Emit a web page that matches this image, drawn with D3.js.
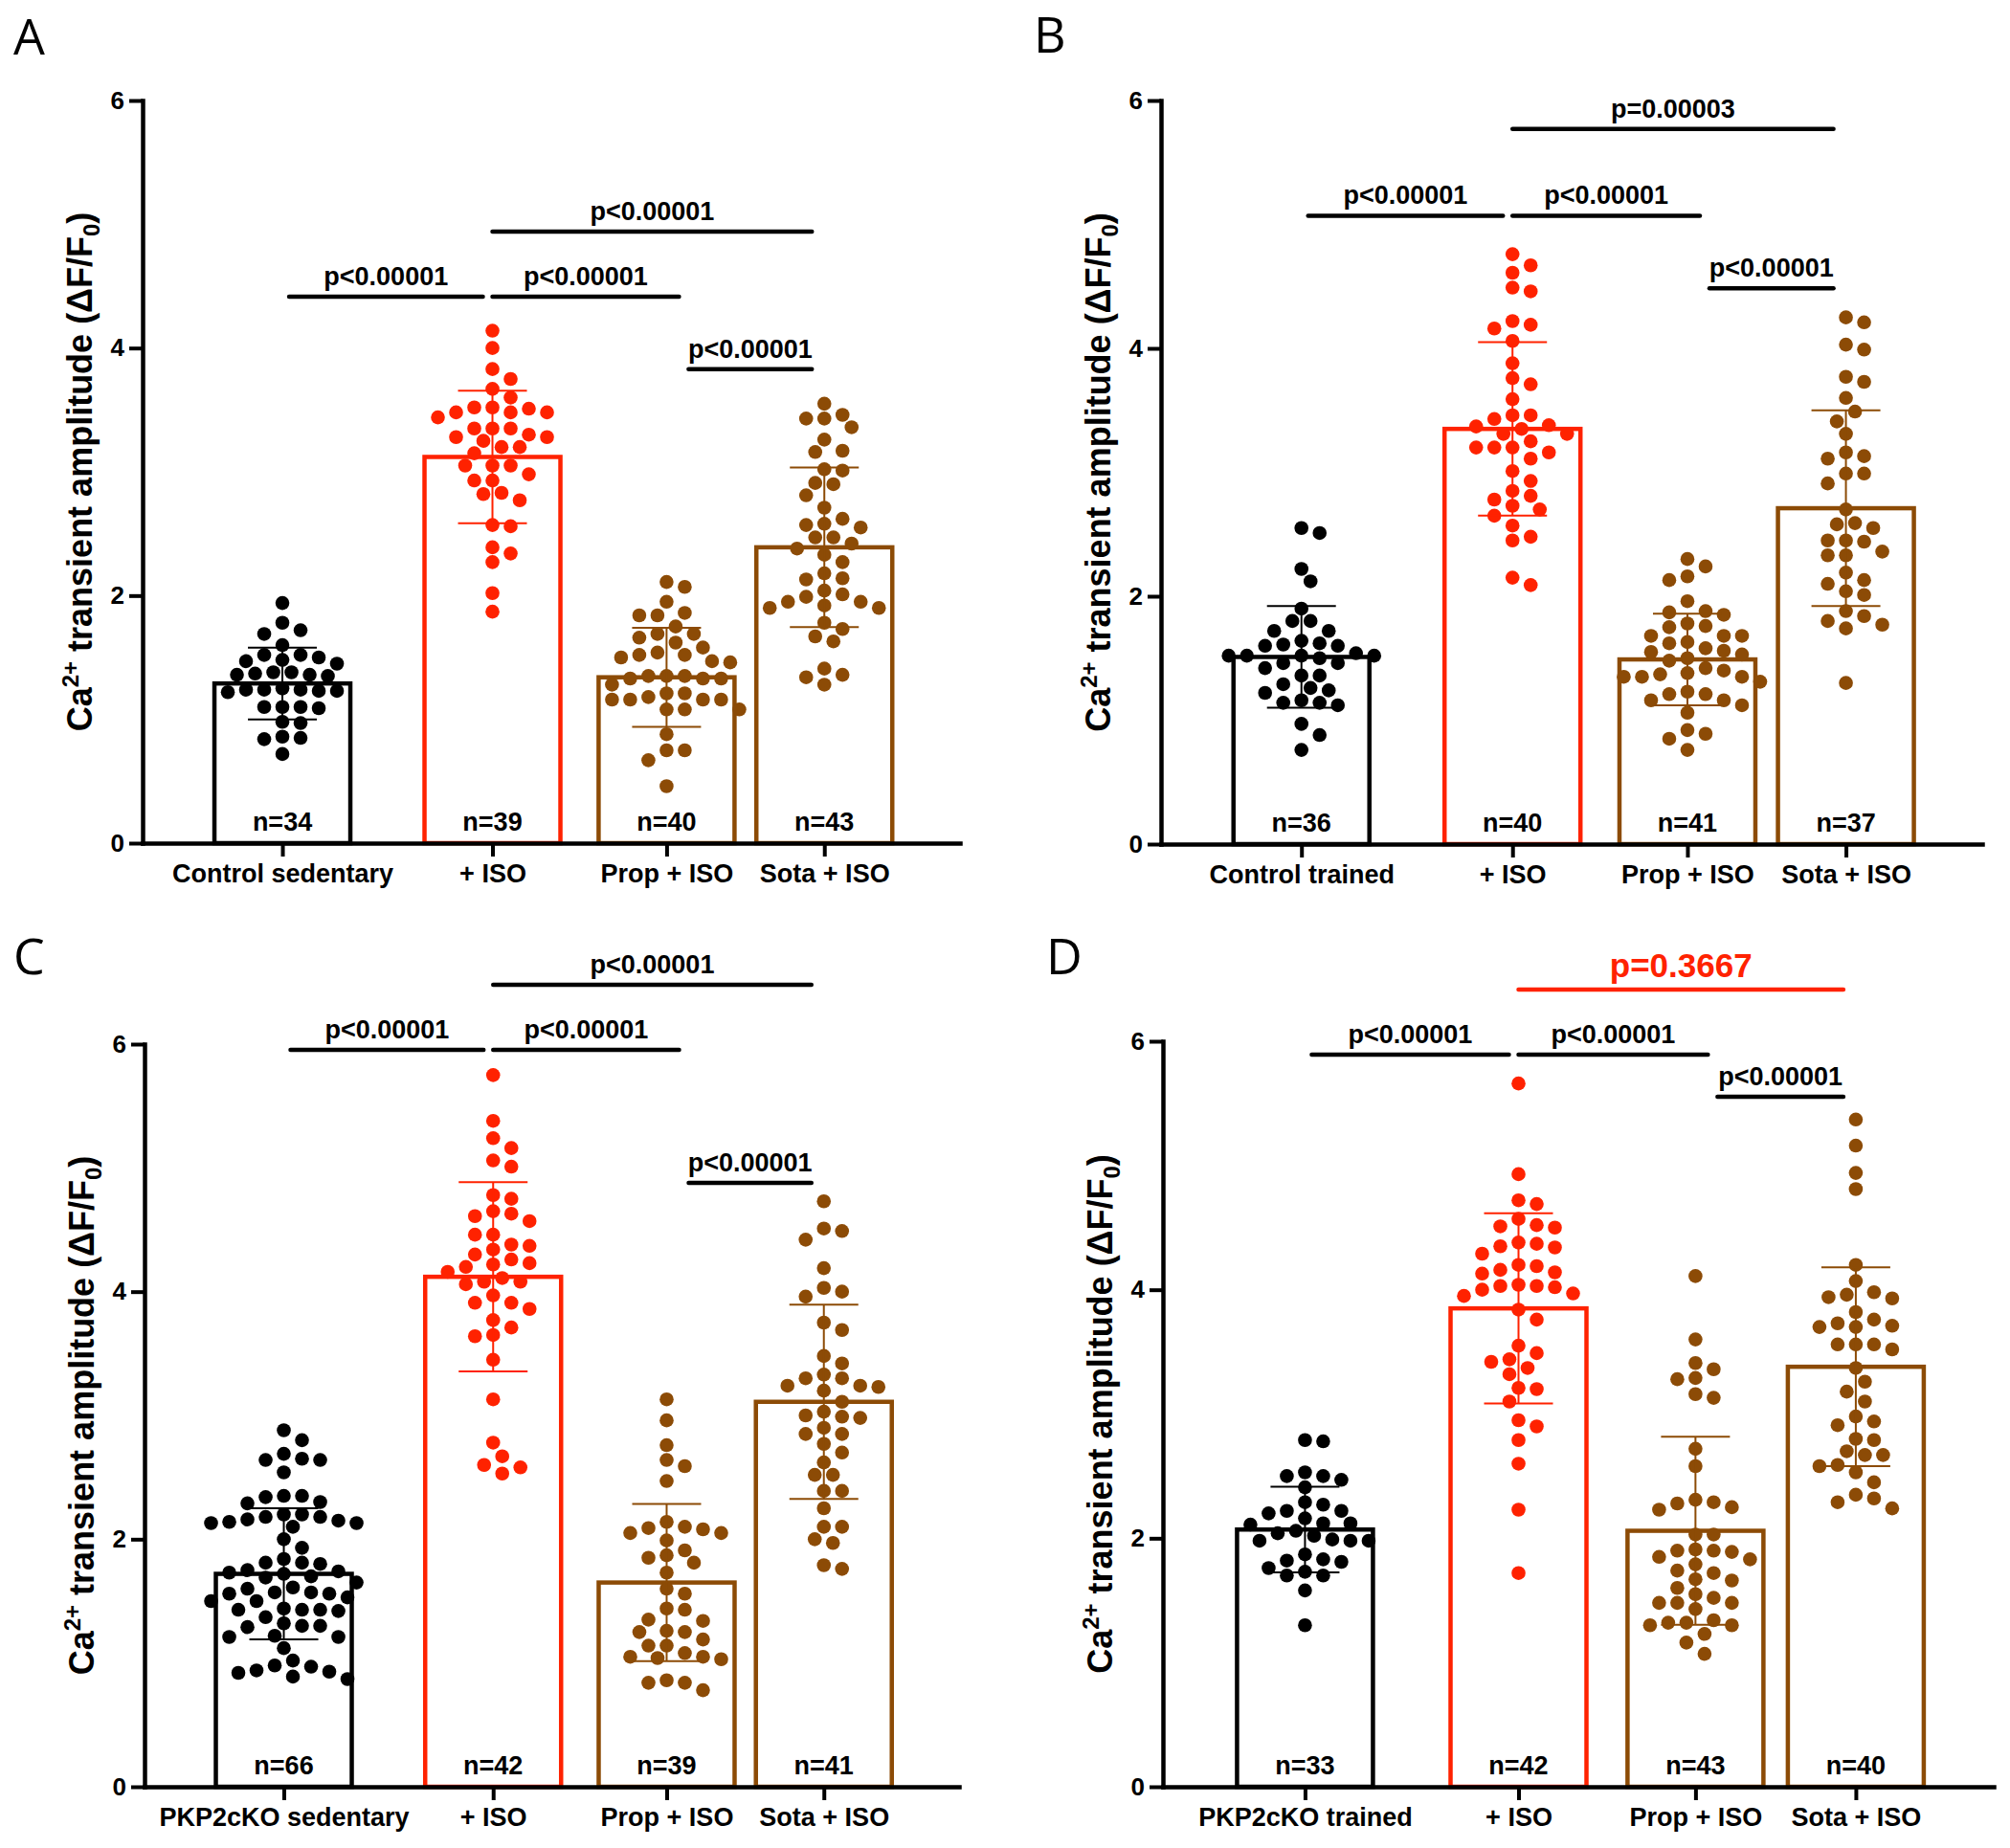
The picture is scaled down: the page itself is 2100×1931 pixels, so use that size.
<!DOCTYPE html>
<html>
<head>
<meta charset="utf-8">
<script src="https://cdn.jsdelivr.net/npm/d3@7"></script>
<style>
  body { margin: 0; background: #fff; }
  text { font-family: "Liberation Sans", Arial, sans-serif; font-weight: bold; }
</style>
</head>
<body>
<script>
const FRAME_WIDTH = 2100;
const FRAME_HEIGHT = 1931;

// colours per group: control, +ISO, Prop + ISO, Sota + ISO
const GROUP_COLOR = ["#000000", "#ff2200", "#8c4b06", "#8c4b06"];
// where the four groups sit along each x axis (fraction of axis length)
const GROUP_POS = [0.171, 0.428, 0.641, 0.834];
// small px nudges where the comparison brackets attach to each group
const BRACKET_NUDGE = [2, -5, 18, -8];
const Y_TICKS = [0, 2, 4, 6];

// ---------- panel A ----------
const A_LABELS = ["Control sedentary", "+ ISO", "Prop + ISO", "Sota + ISO"];
const A_N = [34, 39, 40, 43];
const A_MEAN = [1.29, 3.12, 1.34, 2.39];
const A_SD = [0.29, 0.535, 0.40, 0.645];
const A_CTRL = [1.94, 1.78, 1.72, 1.69, 1.60, 1.52, 1.50, 1.48, 1.47, 1.45, 1.52, 1.38, 1.36, 1.38, 1.35, 1.37, 1.36,
  1.24, 1.23, 1.24, 1.22, 1.25, 1.23, 1.24, 1.10, 1.10, 1.09, 1.10, 0.97, 0.98, 0.85, 0.86, 0.84, 0.72];
const A_ISO = [4.14, 4.00, 3.83, 3.75, 3.67, 3.60, 3.51, 3.48, 3.52, 3.52, 3.48, 3.44, 3.48, 3.35, 3.35, 3.28, 3.28,
  3.30, 3.35, 3.25, 3.20, 3.20, 3.05, 3.05, 3.05, 2.93, 2.93, 2.82, 2.83, 2.77, 2.57, 2.56, 2.39, 2.34, 2.27, 2.02,
  1.87, 3.15, 2.98];
const A_PROP = [2.11, 2.07, 1.95, 1.86, 1.84, 1.84, 1.75, 1.66, 1.69, 1.69, 1.58, 1.62, 1.50, 1.47, 1.54, 1.52, 1.46,
  1.52, 1.33, 1.35, 1.28, 1.35, 1.35, 1.33, 1.33, 1.18, 1.16, 1.16, 1.21, 1.16, 1.21, 1.16, 1.08, 1.08, 1.08, 0.88,
  0.75, 0.75, 0.67, 0.46];
const A_SOTA = [3.55, 3.43, 3.43, 3.46, 3.36, 3.26, 3.16, 3.17, 3.01, 3.02, 2.90, 2.91, 2.81, 2.71, 2.58, 2.57, 2.47,
  2.47, 2.55, 2.42, 2.38, 2.33, 2.27, 2.18, 2.14, 2.13, 1.99, 2.04, 2.01, 1.90, 1.92, 1.95, 1.90, 1.95, 1.78, 1.67,
  1.73, 1.63, 1.41, 1.36, 1.34, 1.28, 2.62];
// [from group, to group, height, label]
const A_SIG = [[0, 1, 4.415, "p<0.00001"], [1, 2, 4.415, "p<0.00001"], [1, 3, 4.94, "p<0.00001"], [2, 3, 3.83, "p<0.00001"]];

// ---------- panel B ----------
const B_LABELS = ["Control trained", "+ ISO", "Prop + ISO", "Sota + ISO"];
const B_N = [36, 40, 41, 37];
const B_MEAN = [1.51, 3.35, 1.49, 2.71];
const B_SD = [0.41, 0.70, 0.37, 0.79];
const B_CTRL = [2.55, 2.51, 2.22, 2.12, 1.90, 1.80, 1.80, 1.72, 1.72, 1.64, 1.62, 1.60, 1.61, 1.60, 1.50, 1.52, 1.52,
  1.52, 1.52, 1.46, 1.46, 1.54, 1.36, 1.42, 1.36, 1.24, 1.29, 1.26, 1.22, 1.12, 1.16, 1.14, 1.14, 0.97, 0.88, 0.76];
const B_ISO = [4.76, 4.61, 4.67, 4.49, 4.46, 4.22, 4.19, 4.16, 4.06, 3.88, 3.76, 3.71, 3.59, 3.46, 3.43, 3.46, 3.38,
  3.35, 3.37, 3.31, 3.31, 3.20, 3.16, 3.20, 3.20, 3.11, 3.01, 2.93, 2.85, 2.78, 2.81, 2.73, 2.70, 2.65, 2.57, 2.48,
  2.45, 2.15, 2.09, 3.25];
const B_PROP = [2.24, 2.30, 2.16, 2.13, 1.96, 1.85, 1.88, 1.87, 1.78, 1.75, 1.76, 1.68, 1.68, 1.68, 1.56, 1.58, 1.62,
  1.63, 1.55, 1.48, 1.50, 1.53, 1.40, 1.35, 1.37, 1.42, 1.38, 1.35, 1.31, 1.35, 1.21, 1.23, 1.21, 1.12, 1.06, 1.16,
  1.16, 0.89, 0.92, 0.85, 0.76];
const B_SOTA = [4.25, 4.21, 4.03, 3.99, 3.77, 3.73, 3.60, 3.49, 3.41, 3.31, 3.13, 3.16, 3.11, 2.99, 2.99, 2.91, 2.55,
  2.58, 2.59, 2.45, 2.45, 2.44, 2.36, 2.33, 2.33, 2.13, 2.19, 2.10, 2.01, 2.04, 1.88, 1.84, 1.77, 1.74, 1.80, 1.30, 2.70];
const B_SIG = [[0, 1, 5.07, "p<0.00001"], [1, 2, 5.07, "p<0.00001"], [1, 3, 5.77, "p=0.00003"], [2, 3, 4.485, "p<0.00001"]];

// ---------- panel C ----------
const C_LABELS = ["PKP2cKO sedentary", "+ ISO", "Prop + ISO", "Sota + ISO"];
const C_N = [66, 42, 39, 41];
const C_MEAN = [1.72, 4.12, 1.65, 3.11];
const C_SD = [0.53, 0.765, 0.635, 0.785];
const C_CTRL = [2.88, 2.80, 2.69, 2.64, 2.64, 2.65, 2.54, 2.34, 2.35, 2.35, 2.30, 2.29, 2.18, 2.18, 2.20, 2.20, 2.16,
  2.15, 2.13, 2.14, 2.10, 2.13, 2.00, 1.93, 1.81, 1.84, 1.80, 1.81, 1.75, 1.73, 1.72, 1.74, 1.70, 1.65, 1.61, 1.69,
  1.57, 1.60, 1.56, 1.57, 1.53, 1.56, 1.50, 1.50, 1.43, 1.43, 1.43, 1.44, 1.42, 1.37, 1.29, 1.30, 1.30, 1.32, 1.21,
  1.21, 1.22, 1.12, 1.02, 0.97, 0.98, 0.93, 0.94, 0.92, 0.89, 0.87];
const C_ISO = [5.75, 5.38, 5.24, 5.16, 5.06, 5.01, 4.78, 4.75, 4.63, 4.65, 4.61, 4.57, 4.46, 4.46, 4.38, 4.37, 4.34,
  4.30, 4.26, 4.23, 4.22, 4.20, 4.16, 4.11, 4.08, 4.06, 4.08, 3.97, 3.91, 3.91, 3.86, 3.77, 3.71, 3.64, 3.65, 3.45,
  3.13, 2.78, 2.67, 2.60, 2.58, 2.53];
const C_PROP = [3.13, 2.96, 2.76, 2.59, 2.64, 2.47, 2.08, 2.14, 2.09, 2.05, 2.10, 2.05, 1.99, 1.91, 1.87, 1.85, 1.81,
  1.73, 1.56, 1.60, 1.43, 1.44, 1.35, 1.34, 1.25, 1.25, 1.26, 1.14, 1.19, 1.14, 1.04, 1.08, 1.05, 1.05, 1.03, 0.86,
  0.84, 0.84, 0.78];
const C_SOTA = [4.73, 4.51, 4.49, 4.42, 4.19, 4.00, 3.96, 4.03, 3.75, 3.69, 3.42, 3.48, 3.30, 3.33, 3.30, 3.20, 3.24,
  3.24, 3.23, 3.11, 3.03, 3.00, 2.99, 2.98, 2.90, 2.85, 2.85, 2.77, 2.62, 2.52, 2.52, 2.39, 2.39, 2.25, 2.10, 2.10,
  1.97, 2.00, 1.76, 1.79, 2.70];
const C_SIG = [[0, 1, 5.954, "p<0.00001"], [1, 2, 5.954, "p<0.00001"], [1, 3, 6.48, "p<0.00001"], [2, 3, 4.879, "p<0.00001"]];

// ---------- panel D ----------
const D_LABELS = ["PKP2cKO trained", "+ ISO", "Prop + ISO", "Sota + ISO"];
const D_N = [33, 42, 43, 40];
const D_MEAN = [2.07, 3.85, 2.06, 3.38];
const D_SD = [0.345, 0.765, 0.757, 0.80];
const D_CTRL = [2.78, 2.79, 2.53, 2.47, 2.50, 2.50, 2.41, 2.29, 2.27, 2.22, 2.20, 2.22, 2.16, 2.12, 2.12, 2.11, 2.06,
  2.04, 2.02, 1.99, 1.98, 1.98, 1.98, 1.82, 1.87, 1.83, 1.81, 1.76, 1.70, 1.73, 1.70, 1.58, 1.30];
const D_ISO = [5.66, 4.93, 4.72, 4.69, 4.57, 4.51, 4.52, 4.50, 4.38, 4.34, 4.37, 4.35, 4.29, 4.20, 4.19, 4.16, 4.13,
  4.14, 4.03, 4.03, 4.04, 4.02, 4.00, 3.97, 3.95, 3.84, 3.76, 3.49, 3.42, 3.44, 3.32, 3.37, 3.20, 3.21, 3.10, 2.95,
  2.90, 2.79, 2.60, 2.23, 1.72, 3.55];
const D_PROP = [4.11, 3.60, 3.36, 3.29, 3.41, 3.28, 3.16, 3.13, 2.72, 2.58, 2.25, 2.29, 2.28, 2.23, 2.31, 2.03, 2.03,
  1.89, 1.90, 1.91, 1.90, 1.85, 1.83, 1.79, 1.74, 1.72, 1.66, 1.67, 1.60, 1.55, 1.52, 1.48, 1.48, 1.48, 1.43, 1.32,
  1.30, 1.30, 1.32, 1.34, 1.23, 1.16, 1.07];
const D_SOTA = [5.37, 5.16, 4.94, 4.81, 4.20, 4.07, 3.93, 3.94, 3.98, 3.96, 3.82, 3.70, 3.70, 3.76, 3.73, 3.71, 3.56,
  3.56, 3.52, 3.56, 3.37, 3.26, 3.18, 3.10, 2.98, 2.91, 2.94, 2.79, 2.80, 2.67, 2.67, 2.70, 2.59, 2.53, 2.58, 2.45,
  2.32, 2.35, 2.29, 2.24];
const D_SIG = [[0, 1, 5.892, "p<0.00001"], [1, 2, 5.892, "p<0.00001"], [1, 3, 6.416, "p=0.3667"], [2, 3, 5.553, "p<0.00001"]];

// panel placement on the page (pixels)
const PANELS = [
  {letter: "A", axisX: 149, y0: 881, y6: 105, len: 854, letterX: 14, letterY: 57,
   labels: A_LABELS, groups: [A_CTRL, A_ISO, A_PROP, A_SOTA], n: A_N, mean: A_MEAN, sd: A_SD, sig: A_SIG},
  {letter: "B", axisX: 1213, y0: 882, y6: 105, len: 858, letterX: 1080, letterY: 55,
   labels: B_LABELS, groups: [B_CTRL, B_ISO, B_PROP, B_SOTA], n: B_N, mean: B_MEAN, sd: B_SD, sig: B_SIG},
  {letter: "C", axisX: 151, y0: 1867, y6: 1091, len: 851, letterX: 14, letterY: 1018,
   labels: C_LABELS, groups: [C_CTRL, C_ISO, C_PROP, C_SOTA], n: C_N, mean: C_MEAN, sd: C_SD, sig: C_SIG},
  {letter: "D", axisX: 1215, y0: 1867, y6: 1088, len: 868, letterX: 1093, letterY: 1018,
   labels: D_LABELS, groups: [D_CTRL, D_ISO, D_PROP, D_SOTA], n: D_N, mean: D_MEAN, sd: D_SD, sig: D_SIG}
];

const BAR_WIDTH = 142;
const DOT_R = 7.3;
const CAP_HALF = 36;

const FRAME = d3.select("body")
  .append("svg")
    .attr("width", FRAME_WIDTH)
    .attr("height", FRAME_HEIGHT);

// simple beeswarm: each point keeps its y, x is pushed sideways in half-steps until it clears the others
function swarm(values, yScale) {
  const HALF = 9.5, MIN_DIST = 15.2;
  const pts = values.map((v) => ({v: v, py: yScale(v), dx: 0}))
                    .sort((a, b) => a.py - b.py);
  const placed = [];
  pts.forEach((p) => {
    const near = placed.filter((q) => Math.abs(q.py - p.py) < MIN_DIST);
    const bias = d3.sum(near, (q) => q.dx);
    for (let k = 0; k < 60; k++) {
      const cands = k === 0 ? [0] : (bias > 0 ? [-k * HALF, k * HALF] : [k * HALF, -k * HALF]);
      const ok = cands.find((dx) => near.every((q) => (q.dx - dx) ** 2 + (q.py - p.py) ** 2 >= MIN_DIST * MIN_DIST));
      if (ok !== undefined) { p.dx = ok; break; }
    }
    placed.push(p);
  });
  return pts;
}

function drawPanel(P) {
  const G = FRAME.append("g");

  const Y_SCALE = d3.scaleLinear().domain([0, 6]).range([P.y0, P.y6]);
  const X_SCALE = d3.scaleLinear().domain([0, 1]).range([P.axisX, P.axisX + P.len]);

  // bars (mean)
  G.selectAll(".bar")
    .data(P.mean)
    .enter()
    .append("rect")
      .attr("x", (d, i) => X_SCALE(GROUP_POS[i]) - BAR_WIDTH / 2)
      .attr("y", (d) => Y_SCALE(d))
      .attr("width", BAR_WIDTH)
      .attr("height", (d) => P.y0 - Y_SCALE(d))
      .attr("fill", "#fff")
      .attr("stroke", (d, i) => GROUP_COLOR[i])
      .attr("stroke-width", 4.5);

  // individual cells
  P.groups.forEach((vals, i) => {
    const cx = X_SCALE(GROUP_POS[i]);
    G.selectAll(".dot" + i)
      .data(swarm(vals, Y_SCALE))
      .enter()
      .append("circle")
        .attr("cx", (d) => cx + d.dx)
        .attr("cy", (d) => d.py)
        .attr("r", DOT_R)
        .attr("fill", GROUP_COLOR[i]);
  });

  // error bars (SD)
  P.mean.forEach((m, i) => {
    const cx = X_SCALE(GROUP_POS[i]);
    const top = Y_SCALE(m + P.sd[i]), bot = Y_SCALE(m - P.sd[i]);
    const eb = G.append("g")
      .attr("stroke", GROUP_COLOR[i])
      .attr("stroke-width", 2);
    eb.append("line").attr("x1", cx).attr("x2", cx).attr("y1", top).attr("y2", bot);
    eb.append("line").attr("x1", cx - CAP_HALF).attr("x2", cx + CAP_HALF).attr("y1", top).attr("y2", top);
    eb.append("line").attr("x1", cx - CAP_HALF).attr("x2", cx + CAP_HALF).attr("y1", bot).attr("y2", bot);
  });

  // y axis
  const yAxis = G.append("g")
    .attr("transform", "translate(" + P.axisX + ",0)")
    .call(d3.axisLeft(Y_SCALE).tickValues(Y_TICKS).tickFormat(d3.format("d"))
            .tickSize(14).tickSizeOuter(0).tickPadding(5))
    .attr("font-size", "26px");

  // x axis
  const xAxis = G.append("g")
    .attr("transform", "translate(0," + P.y0 + ")")
    .call(d3.axisBottom(X_SCALE).tickValues(GROUP_POS).tickFormat((d, i) => P.labels[i])
            .tickSize(14).tickSizeOuter(0).tickPadding(8))
    .attr("font-size", "27px");

  [yAxis, xAxis].forEach((ax) => {
    ax.select(".domain").attr("stroke-width", 4.5).attr("stroke-linecap", "square");
    ax.selectAll(".tick line").attr("stroke-width", 4);
    ax.selectAll(".tick text").attr("fill", "#000");
  });

  // n labels inside bars
  G.selectAll(".nlab")
    .data(P.n)
    .enter()
    .append("text")
      .attr("x", (d, i) => X_SCALE(GROUP_POS[i]))
      .attr("y", P.y0 - 13)
      .attr("text-anchor", "middle")
      .attr("font-size", "27px")
      .text((d) => "n=" + d);

  // significance brackets
  P.sig.forEach((s) => {
    const x1 = X_SCALE(GROUP_POS[s[0]]) + BRACKET_NUDGE[s[0]] + 5;
    const x2 = X_SCALE(GROUP_POS[s[1]]) + BRACKET_NUDGE[s[1]] - 5;
    const yy = Y_SCALE(s[2]);
    const pv = parseFloat(s[3].slice(2));
    const ns = s[3][1] === "=" && pv > 0.05;
    const col = ns ? GROUP_COLOR[1] : "#000";
    G.append("line")
      .attr("x1", x1).attr("x2", x2).attr("y1", yy).attr("y2", yy)
      .attr("stroke", col)
      .attr("stroke-width", 4.5)
      .attr("stroke-linecap", "round");
    G.append("text")
      .attr("x", (x1 + x2) / 2)
      .attr("y", yy - (ns ? 13 : 12))
      .attr("text-anchor", "middle")
      .attr("font-size", ns ? "35px" : "27px")
      .attr("fill", col)
      .text(s[3]);
  });

  // y axis title
  const title = G.append("text")
    .attr("transform", "translate(" + (P.axisX - 53) + "," + ((P.y0 + P.y6) / 2) + ") rotate(-90)")
    .attr("text-anchor", "middle")
    .attr("font-size", "36px");
  title.append("tspan").text("Ca");
  title.append("tspan").attr("dy", -14).attr("font-size", "24px").text("2+");
  title.append("tspan").attr("dy", 14).text(" transient amplitude (\u0394F/F");
  title.append("tspan").attr("dy", 8).attr("font-size", "24px").text("0");
  title.append("tspan").attr("dy", -8).text(")");

  // panel letter
  G.append("text")
    .attr("x", P.letterX)
    .attr("y", P.letterY)
    .attr("font-size", "52px")
    .style("font-family", "'Open Sans', 'Noto Sans', sans-serif")
    .style("font-weight", "normal")
    .text(P.letter);
}

PANELS.forEach(drawPanel);
</script>
</body>
</html>
